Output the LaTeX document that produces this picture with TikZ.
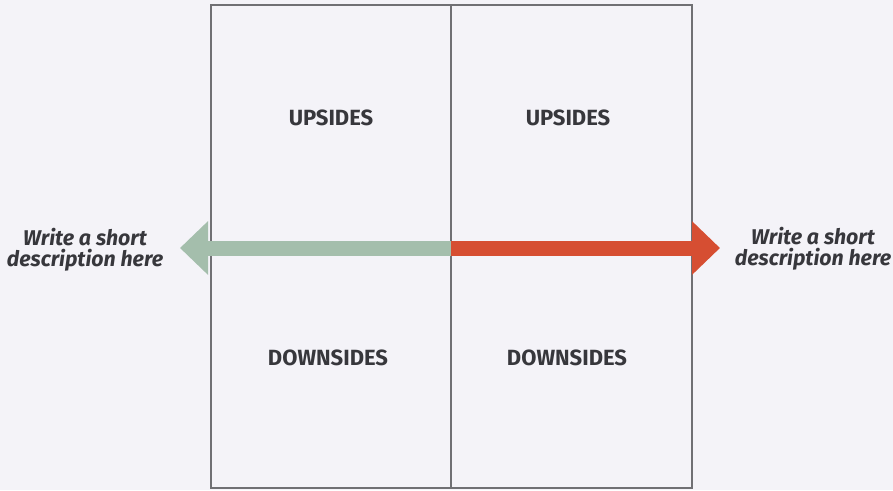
\documentclass[tikz,border=0pt]{standalone}
\usepackage{fontspec}
\setmainfont{Fira Sans}
\usetikzlibrary{arrows.meta}

\definecolor{paper}{RGB}{244,243,248}
\definecolor{boxgray}{RGB}{112,112,116}
\definecolor{textgray}{RGB}{55,55,60}
\definecolor{sagegreen}{RGB}{164,190,172}
\definecolor{rustred}{RGB}{214,78,50}

\tikzset{every picture/.style={line width=0.75pt}}
\tikzset{
  celltitle/.style={inner sep=0.75pt, text=textgray, font=\bfseries\fontsize{16.5}{19}\selectfont},
  sidenote/.style={inner sep=0.75pt, text=textgray, align=center, font=\bfseries\itshape\fontsize{16}{16}\selectfont},
  fatarrow/.style={line width=11.25pt, -{Triangle[length=21pt,width=39pt]}}
}

\begin{document}
\begin{tikzpicture}[x=0.75pt,y=0.75pt,yscale=-1,xscale=1]
\path [fill=paper] (0,0) rectangle (893,490);
\useasboundingbox (0,0) rectangle (893,490);

%Shape: Rectangle
\draw [color=boxgray, line width=1.5] (211,5) rectangle (692,488);
%Straight Lines
\draw [color=boxgray, line width=1.5] (451,5) -- (451,488);

\coordinate (mid) at (451,248);
\coordinate (lefttip) at (180,248);
\coordinate (righttip) at (720,248);

%Arrows
\draw [fatarrow, color=sagegreen] (mid) -- (lefttip);
\draw [fatarrow, color=rustred] (mid) -- (righttip);

% Text Node
\node [celltitle] (upleft) at (331,118) {UPSIDES};
% Text Node
\node [celltitle] (upright) at (568,118) {UPSIDES};
% Text Node
\node [celltitle] (downleft) at (328,358) {DOWNSIDES};
% Text Node
\node [celltitle] (downright) at (567,358) {DOWNSIDES};
% Text Node
\node [sidenote] (leftnote) at (85,250) {Write a short\\description here};
% Text Node
\node [sidenote] (rightnote) at (813,249) {Write a short\\description here};

\end{tikzpicture}
\end{document}
